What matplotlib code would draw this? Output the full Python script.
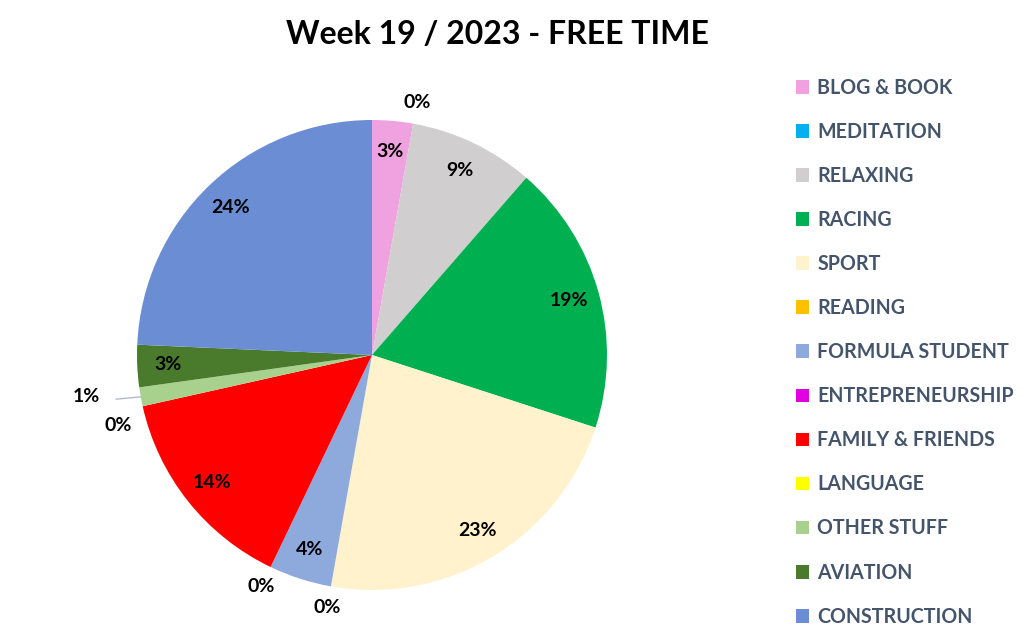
import numpy as np
import matplotlib
matplotlib.use("Agg")
import matplotlib.pyplot as plt

# Week 19 / 2023 - free time split
categories = ["BLOG & BOOK", "MEDITATION", "RELAXING", "RACING", "SPORT", "READING",
              "FORMULA STUDENT", "ENTREPRENEURSHIP", "FAMILY & FRIENDS", "LANGUAGE",
              "OTHER STUFF", "AVIATION", "CONSTRUCTION"]
shares = [2.8, 0.0, 8.6, 18.6, 22.8, 0.0, 4.3, 0.0, 14.4, 0.0, 1.3, 2.9, 24.3]
colors = ["#EFA2DF", "#00B0F0", "#D0CECE", "#00B050", "#FFF2CC", "#FFC000",
          "#8EA9DB", "#E000E0", "#FF0000", "#FFFF00", "#A9D18E", "#4A7A2C", "#6A8DD3"]

W, H = 1022, 640
fig = plt.figure(figsize=(W / 100, H / 100), dpi=100)
cx, cy, R = 372, 355, 235
ax = fig.add_axes([(cx - R) / W, (H - cy - R) / H, 2 * R / W, 2 * R / H])

wedges, _ = ax.pie(shares, colors=colors, startangle=90, counterclock=False,
                   radius=1, wedgeprops=dict(linewidth=0))
ax.set_xlim(-1, 1)
ax.set_ylim(-1, 1)
ax.axis("off")

FONT = "Lato"
label_font = dict(fontsize=14, fontweight="bold", family=FONT, color="black",
                  ha="center", va="center")
# angle nudges (degrees) for crowded outside labels
nudge = {"LANGUAGE": 3.0, "OTHER STUFF": -2.0}
for i, (w, v) in enumerate(zip(wedges, shares)):
    mid = (w.theta1 + w.theta2) / 2 + nudge.get(categories[i], 0.0)
    ang = np.deg2rad(mid)
    txt = f"{round(v):.0f}%"
    if categories[i] == "OTHER STUFF":
        d = 1.23
        a0 = np.deg2rad((w.theta1 + w.theta2) / 2)
        ax.plot([np.cos(a0), np.cos(ang) * 1.1], [np.sin(a0), np.sin(ang) * 1.1 - 0.03],
                color="#A6B5CC", lw=0.9, clip_on=False)
    elif round(v) == 0:
        d = 1.12 if categories[i] == "LANGUAGE" else 1.09
    else:
        d = 0.87
    ax.text(np.cos(ang) * d, np.sin(ang) * d, txt, **label_font)

fig.text(497 / W, 1 - 35 / H, "Week 19 / 2023 - FREE TIME", ha="center", va="center",
         fontsize=23, fontweight="bold", family=FONT, color="black")

leg = fig.legend(wedges, categories, loc="upper left", bbox_to_anchor=(778 / W, 1 - 60 / H),
                 frameon=False, handlelength=0.7, handleheight=0.7, handletextpad=0.4,
                 labelspacing=1.23, prop=dict(family=FONT, weight="bold", size=14.1))
for t in leg.get_texts():
    t.set_color("#44546A")

fig.savefig("out.png", dpi=100)
